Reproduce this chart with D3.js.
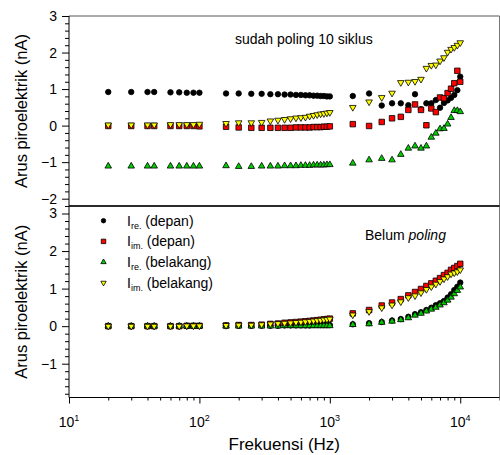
<!DOCTYPE html>
<html>
<head>
<meta charset="utf-8">
<script src="https://cdn.jsdelivr.net/npm/d3@7"></script>
<style>
  html, body { margin: 0; padding: 0; background: #fff; }
  svg { display: block; font-family: "Liberation Sans", Arial, sans-serif; }
</style>
</head>
<body>
<svg id="chart" width="500" height="455"></svg>
<script>
// Measurement frequencies (Hz), shared by every series
const freq = [20, 30, 40, 45, 60, 70, 80, 90, 100, 160, 200, 250, 300, 350, 400,
  450, 500, 550, 600, 650, 700, 750, 800, 850, 900, 950, 1000,
  1500, 2000, 2500, 3000, 3500, 4000, 4500, 5000, 5500, 6000, 6500, 7000, 7500,
  8000, 8500, 9000, 9500, 10000];

// Upper panel: after 10 poling cycles (nA)
const poledReFront = [0.92, 0.92, 0.92, 0.92, 0.91, 0.91, 0.90, 0.90, 0.90, 0.88, 0.88, 0.87, 0.87, 0.86, 0.86,
  0.85, 0.85, 0.84, 0.84, 0.83, 0.83, 0.82, 0.82, 0.81, 0.81, 0.80, 0.80,
  0.81, 0.88, 0.55, 0.61, 0.61, 0.56, 0.86, 0.45, 0.61, 0.61, 0.70, 0.49, 0.62,
  0.69, 0.76, 0.84, 0.97, 1.34];
const poledImFront = [-0.01, -0.01, -0.01, -0.01, -0.01, -0.01, -0.01, -0.01, -0.02, -0.03, -0.05, -0.06, -0.06, -0.06, -0.06,
  -0.06, -0.06, -0.05, -0.05, -0.05, -0.05, -0.04, -0.04, -0.04, -0.03, -0.03, -0.02,
  0.04, -0.01, 0.10, 0.20, 0.24, 0.43, 0.58, 0.43, 0.01, 0.47, 0.37, 0.77, 0.75,
  0.89, 1.01, 1.16, 1.50, 1.20];
const poledReBack = [-1.11, -1.11, -1.11, -1.11, -1.11, -1.11, -1.11, -1.11, -1.11, -1.10, -1.12, -1.12, -1.11, -1.11, -1.11,
  -1.10, -1.10, -1.10, -1.09, -1.09, -1.09, -1.08, -1.08, -1.08, -1.08, -1.07, -1.07,
  -1.03, -0.94, -0.90, -0.94, -0.79, -0.62, -0.56, -0.62, -0.56, -0.32, -0.21, -0.09, -0.08,
  0.04, 0.22, 0.41, 0.41, 0.38];
const poledImBack = [0.02, 0.02, 0.02, 0.02, 0.03, 0.03, 0.03, 0.03, 0.04, 0.06, 0.08, 0.08, 0.09, 0.13, 0.15,
  0.17, 0.19, 0.21, 0.22, 0.23, 0.26, 0.28, 0.30, 0.32, 0.33, 0.345, 0.36,
  0.50, 0.65, 0.77, 0.89, 1.18, 1.19, 1.21, 1.27, 1.57, 1.65, 1.66, 1.77, 1.86,
  2.01, 2.09, 2.14, 2.20, 2.27];

// Lower panel: before poling (nA)
const unpoledReFront = [0.00, 0.00, 0.00, 0.00, 0.00, 0.00, 0.00, 0.00, 0.00, 0.01, 0.01, 0.01, 0.01, 0.01, 0.01,
  0.02, 0.02, 0.02, 0.02, 0.02, 0.02, 0.03, 0.03, 0.03, 0.03, 0.03, 0.03,
  0.05, 0.08, 0.11, 0.15, 0.19, 0.25, 0.32, 0.37, 0.43, 0.49, 0.56, 0.61, 0.67,
  0.76, 0.85, 0.96, 1.05, 1.16];
const unpoledImFront = [0.00, 0.00, 0.00, 0.00, 0.00, 0.00, 0.01, 0.01, 0.01, 0.02, 0.03, 0.03, 0.04, 0.06, 0.07,
  0.09, 0.10, 0.11, 0.12, 0.13, 0.14, 0.15, 0.16, 0.17, 0.18, 0.19, 0.20,
  0.34, 0.43, 0.55, 0.63, 0.72, 0.82, 0.91, 0.99, 1.07, 1.14, 1.21, 1.28, 1.36,
  1.42, 1.50, 1.55, 1.60, 1.66];
const unpoledReBack = [0.00, 0.00, 0.00, 0.00, 0.00, 0.00, 0.00, 0.00, 0.00, 0.00, 0.00, 0.00, 0.00, 0.00, 0.00,
  0.01, 0.01, 0.01, 0.01, 0.01, 0.01, 0.01, 0.01, 0.01, 0.01, 0.01, 0.01,
  0.04, 0.06, 0.10, 0.13, 0.17, 0.22, 0.29, 0.34, 0.40, 0.45, 0.50, 0.56, 0.62,
  0.69, 0.77, 0.86, 0.95, 1.04];
const unpoledImBack = [0.00, 0.00, 0.00, 0.00, 0.00, 0.00, 0.01, 0.01, 0.01, 0.02, 0.03, 0.03, 0.04, 0.06, 0.07,
  0.08, 0.09, 0.10, 0.11, 0.12, 0.13, 0.14, 0.15, 0.16, 0.17, 0.18, 0.19,
  0.30, 0.39, 0.49, 0.565, 0.65, 0.76, 0.81, 0.89, 0.98, 1.05, 1.12, 1.19, 1.26,
  1.32, 1.39, 1.42, 1.45, 1.50];

const xTickExps = [1, 2, 3, 4];
const topTicks = [3, 2, 1, 0, -1, -2];
const bottomTicks = [3, 2, 1, 0, -1];

const seriesStyle = [
  { key: "reFront", sub: "re.", side: " (depan)",    shape: "circle",   fill: "#000000" },
  { key: "imFront", sub: "im.", side: " (depan)",    shape: "square",   fill: "#ff0000" },
  { key: "reBack",  sub: "re.", side: " (belakang)", shape: "triUp",    fill: "#00cc00" },
  { key: "imBack",  sub: "im.", side: " (belakang)", shape: "triDown",  fill: "#ffff00" }
];
const panels = [
  { domain: [-2.2, 3], range: [206, 16], ticks: topTicks,
    series: { reFront: poledReFront, imFront: poledImFront, reBack: poledReBack, imBack: poledImBack } },
  { domain: [-1.9, 3.2], range: [397.5, 206], ticks: bottomTicks,
    series: { reFront: unpoledReFront, imFront: unpoledImFront, reBack: unpoledReBack, imBack: unpoledImBack } }
];

const svg = d3.select("#chart");
const left = 69, right = 499.5;
const x = d3.scaleLog().domain([10, 20000]).range([left, right]);

function markerPath(shape, s) {
  switch (shape) {
    case "circle": return d3.symbol(d3.symbolCircle, s * s * 0.785)();
    case "square": return d3.symbol(d3.symbolSquare, s * s)();
    default: return d3.symbol(d3.symbolTriangle, s * s * 0.62)();
  }
}
function drawMarker(g, shape, fill, s) {
  const p = g.append("path")
    .attr("d", markerPath(shape, s))
    .attr("fill", fill)
    .attr("stroke", "#000")
    .attr("stroke-width", 0.8);
  if (shape === "triDown") p.attr("transform", "rotate(180)");
  return p;
}

panels.forEach(panel => {
  const y = d3.scaleLinear().domain(panel.domain).range(panel.range);
  panel.y = y;

  // frame: light border on top and right
  svg.append("line").attr("x1", left).attr("x2", right).attr("y1", panel.range[1]).attr("y2", panel.range[1])
    .attr("stroke", "#555").attr("stroke-width", 1);
  svg.append("line").attr("x1", right).attr("x2", right).attr("y1", panel.range[1]).attr("y2", panel.range[0])
    .attr("stroke", "#777").attr("stroke-width", 1);

  // y axis with major and minor ticks
  const minor = d3.range(Math.ceil(panel.domain[0] * 5), Math.floor(panel.domain[1] * 5) + 1)
    .map(v => v / 5).filter(v => Math.abs(v - Math.round(v)) > 1e-6);
  const ax = svg.append("g").attr("transform", `translate(${left},0)`);
  ax.call(d3.axisLeft(y).tickValues(minor).tickSize(4).tickFormat(""))
    .call(g => g.select(".domain").remove());
  const axMaj = svg.append("g").attr("transform", `translate(${left},0)`);
  axMaj.call(d3.axisLeft(y).tickValues(panel.ticks).tickSize(7).tickPadding(5).tickFormat(d3.format("d")))
    .call(g => g.select(".domain").remove())
    .call(g => g.selectAll("text").attr("font-size", 14).attr("fill", "#000")
      .attr("font-family", "'Liberation Sans', Arial, sans-serif"));
  svg.selectAll("g.tick line").attr("stroke", "#000");

  svg.append("line").attr("x1", left).attr("x2", left).attr("y1", panel.range[1]).attr("y2", panel.range[0])
    .attr("stroke", "#000").attr("stroke-width", 1);

  // y axis title
  svg.append("text")
    .attr("transform", `translate(27,${(panel.range[0] + panel.range[1]) / 2}) rotate(-90)`)
    .attr("text-anchor", "middle")
    .attr("font-size", 16.5)
    .text("Arus piroelektrik (nA)");

  // data markers
  seriesStyle.forEach(st => {
    const vals = panel.series[st.key];
    const g = svg.append("g");
    freq.forEach((f, i) => {
      const m = g.append("g").attr("transform", `translate(${x(f)},${y(vals[i])})`);
      drawMarker(m, st.shape, st.fill, 5.5);
    });
  });
});

// separator between panels
svg.append("line").attr("x1", left).attr("x2", right).attr("y1", 206).attr("y2", 206)
  .attr("stroke", "#000").attr("stroke-width", 1.6);

// x axis (log scale) at bottom of the lower panel
const xMinor = [];
for (let e = 1; e <= 4; e++) for (let m = 2; m <= 9; m++) {
  const v = m * Math.pow(10, e);
  if (v <= 20000) xMinor.push(v);
}
svg.append("g").attr("transform", "translate(0,397.5)")
  .call(d3.axisBottom(x).tickValues(xMinor).tickSize(3).tickFormat(""))
  .call(g => g.select(".domain").remove());
svg.append("g").attr("transform", "translate(0,397.5)")
  .call(d3.axisBottom(x).tickValues(xTickExps.map(e => Math.pow(10, e))).tickSize(6).tickFormat(""))
  .call(g => g.select(".domain").remove());
svg.selectAll("g.tick line").attr("stroke", "#000");
svg.append("line").attr("x1", left).attr("x2", right).attr("y1", 397.5).attr("y2", 397.5)
  .attr("stroke", "#000").attr("stroke-width", 1);

xTickExps.forEach(e => {
  const t = svg.append("text")
    .attr("x", x(Math.pow(10, e)))
    .attr("y", 427)
    .attr("text-anchor", "middle")
    .attr("font-size", 14);
  t.append("tspan").text("10");
  t.append("tspan").attr("font-size", 9).attr("dy", -6).text(String(e));
});

svg.append("text")
  .attr("x", (left + right) / 2)
  .attr("y", 450)
  .attr("text-anchor", "middle")
  .attr("font-size", 17)
  .text("Frekuensi (Hz)");

// panel annotations
svg.append("text").attr("x", 235).attr("y", 44).attr("font-size", 14).text("sudah poling 10 siklus");
const bel = svg.append("text").attr("x", 365).attr("y", 240).attr("font-size", 14);
bel.append("tspan").text("Belum ");
bel.append("tspan").attr("font-style", "italic").text("poling");

// legend
seriesStyle.forEach((st, i) => {
  const yy = 220.7 + i * 20.7;
  const m = svg.append("g").attr("transform", `translate(103.5,${yy})`);
  drawMarker(m, st.shape, st.fill, 4.5);
  const t = svg.append("text").attr("x", 127).attr("y", yy + 5).attr("font-size", 14);
  t.append("tspan").text("I");
  t.append("tspan").attr("font-size", 9).attr("dy", 3).text(st.sub);
  t.append("tspan").attr("dy", -3).text(st.side);
});
</script>
</body>
</html>
